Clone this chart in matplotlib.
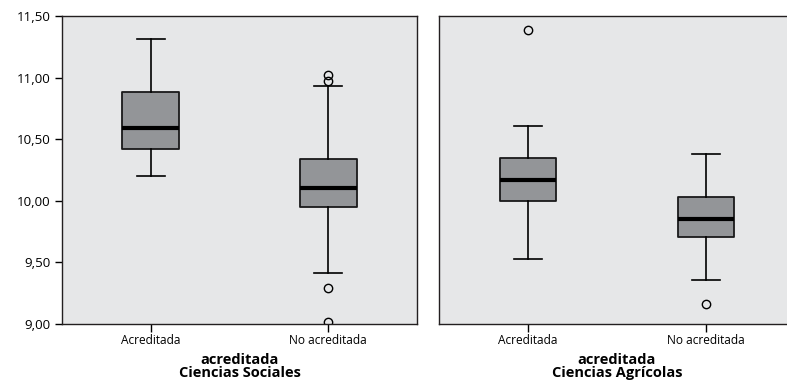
import matplotlib
matplotlib.use("Agg")
import matplotlib.pyplot as plt
from matplotlib.ticker import FuncFormatter

plt.rcParams['font.family'] = ['Open Sans', 'DejaVu Sans']

categories = ["Acreditada", "No acreditada"]
panel_titles = ["Ciencias Sociales", "Ciencias Agrícolas"]
x_label = "acreditada"

# [whislo, q1, med, q3, whishi]
sociales_stats = [
    [10.20, 10.42, 10.59, 10.88, 11.31],
    [9.41, 9.95, 10.10, 10.34, 10.93],
]
sociales_fliers = [[], [11.02, 10.97, 9.29, 9.02]]

agricolas_stats = [
    [9.53, 10.00, 10.17, 10.35, 10.61],
    [9.36, 9.71, 9.85, 10.03, 10.38],
]
agricolas_fliers = [[11.39], [9.16]]

y_ticks = [9.0, 9.5, 10.0, 10.5, 11.0, 11.5]

W, H = 787, 382
fig = plt.figure(figsize=(W / 100, H / 100), dpi=100)

def make_stats(stats, fliers):
    out = []
    for s, f in zip(stats, fliers):
        out.append(dict(whislo=s[0], q1=s[1], med=s[2], q3=s[3], whishi=s[4], fliers=f))
    return out

def draw(ax, stats, fliers, title, show_y):
    ax.set_facecolor('#e6e7e8')
    ax.bxp(make_stats(stats, fliers), positions=range(len(categories)), widths=0.32,
           patch_artist=True, capwidths=0.16,
           boxprops=dict(facecolor='#939598', edgecolor='#1a1a1a', linewidth=1.3, joinstyle='round'),
           medianprops=dict(color='black', linewidth=3.0, solid_capstyle='butt'),
           whiskerprops=dict(color='black', linewidth=1.2),
           capprops=dict(color='black', linewidth=1.2),
           flierprops=dict(marker='o', markersize=6, markerfacecolor='none',
                           markeredgecolor='black', markeredgewidth=1.0))
    ax.set_xlim(-0.5, 1.5)
    ax.set_ylim(9.0, 11.5)
    ax.set_xticks(range(len(categories)))
    ax.set_xticklabels(categories, fontsize=8.6)
    ax.tick_params(axis='x', length=6, width=1.0, pad=1.5)
    if show_y:
        ax.set_yticks(y_ticks)
        ax.yaxis.set_major_formatter(FuncFormatter(lambda v, p: f"{v:.2f}".replace('.', ',')))
        ax.tick_params(axis='y', length=5, width=1.0, labelsize=9.6, pad=3)
    else:
        ax.set_yticks([])
    for sp in ax.spines.values():
        sp.set_color('#231f20')
        sp.set_linewidth(1.0)
    ax.set_xlabel(f"{x_label}\n{title}", fontsize=10.5, fontweight='bold', labelpad=4,
                  linespacing=0.95)

ax1 = fig.add_axes([62 / W, 1 - 324 / H, (417 - 62) / W, (324 - 16) / H])
ax2 = fig.add_axes([439 / W, 1 - 324 / H, (795 - 439) / W, (324 - 16) / H])
draw(ax1, sociales_stats, sociales_fliers, panel_titles[0], True)
draw(ax2, agricolas_stats, agricolas_fliers, panel_titles[1], False)

fig.savefig("out.png", dpi=100)
